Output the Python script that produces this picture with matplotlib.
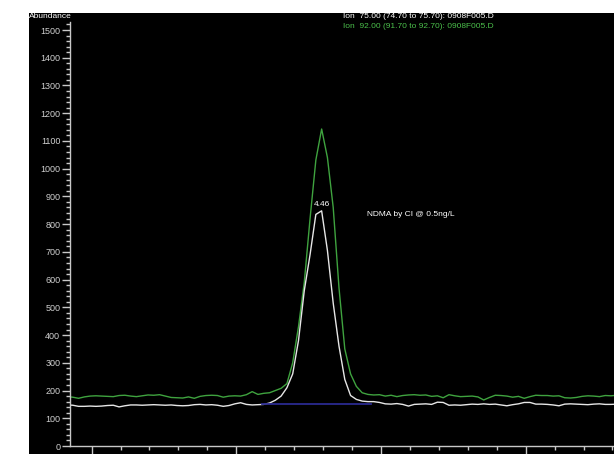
import numpy as np
import matplotlib.pyplot as plt
from matplotlib.patches import Rectangle
from matplotlib.ticker import MultipleLocator

# retention time of each scan (min)
times = [4.283, 4.287, 4.291, 4.295, 4.299, 4.303, 4.307, 4.311, 4.315, 4.319,
         4.323, 4.327, 4.331, 4.335, 4.339, 4.343, 4.347, 4.351, 4.355, 4.359,
         4.363, 4.367, 4.371, 4.375, 4.379, 4.383, 4.387, 4.391, 4.395, 4.399,
         4.403, 4.407, 4.411, 4.415, 4.419, 4.423, 4.427, 4.431, 4.435, 4.439,
         4.443, 4.447, 4.451, 4.455, 4.459, 4.463, 4.467, 4.471, 4.475, 4.479,
         4.483, 4.487, 4.491, 4.495, 4.499, 4.503, 4.507, 4.511, 4.515, 4.519,
         4.523, 4.527, 4.531, 4.535, 4.539, 4.543, 4.547, 4.551, 4.555, 4.559,
         4.563, 4.567, 4.571, 4.575, 4.579, 4.583, 4.587, 4.591, 4.595, 4.599,
         4.603, 4.607, 4.611, 4.615, 4.619, 4.623, 4.627, 4.631, 4.635, 4.639,
         4.643, 4.647, 4.651, 4.655, 4.659, 4.663]

# ion 92 trace (green)
ion92 = [178, 176, 172, 177, 180, 181, 180, 179, 178, 182,
         183, 180, 178, 181, 184, 183, 185, 180, 175, 174,
         173, 177, 172, 179, 182, 183, 182, 176, 180, 181,
         180, 185, 196, 186,
         190, 192, 200, 208, 225, 300, 430, 590, 820, 1031,
         1143, 1040, 860, 570, 350, 260, 215, 192, 186, 184,
         185, 180, 183, 178, 182,
         184, 185, 183, 184, 179, 181, 174, 185, 181, 178, 179,
         180, 177, 166, 175, 183, 182, 180, 176, 179, 172,
         178, 183, 182, 182, 180, 181, 174, 173, 175, 179,
         181, 180, 178, 182, 181, 183]

# ion 75 trace (white)
ion75 = [148, 147, 143, 143, 144, 143, 144, 146, 147, 141,
         145, 148, 148, 147, 148, 149, 148, 147, 148, 146,
         145, 146, 149, 150, 148, 149, 147, 143, 146, 152,
         156, 150, 148, 149,
         150, 155, 165, 180, 210, 260, 380, 560, 690, 835,
         848, 705, 515, 360, 240, 182, 168, 162, 160, 160,
         157, 152, 151, 153, 150,
         144, 150, 151, 152, 150, 158, 157, 147, 148, 147, 149,
         151, 150, 152, 150, 151, 148, 145, 149, 152, 157,
         157, 151, 151, 150, 148, 145, 151, 152, 151, 150,
         149, 151, 152, 150, 150, 151]

# integration baseline
base_t = [4.418, 4.493]
base_y = [150, 150]

W, H = 614, 454
fig = plt.figure(figsize=(W / 100, H / 100), dpi=100, facecolor='white')
fig.patches.append(Rectangle((29 / W, 0), 1, (H - 13) / H, transform=fig.transFigure,
                             facecolor='black', edgecolor='none', zorder=-10))

ax = fig.add_axes([70 / W, 8 / H, 0.9778, 0.9346])
ax.set_zorder(5)
ax.set_facecolor('none')
ax.set_xlim(4.2851, 4.70)
ax.set_ylim(0, 1530)

ax.plot(times, ion92, color='#3fa33f', lw=1.0)
ax.plot(times, ion75, color='#e6e6e6', lw=1.0)
ax.plot(base_t, base_y, color='#2a2a90', lw=1.3)

axcol = '#c8c8c8'
for s in ['top', 'right']:
    ax.spines[s].set_visible(False)
for s in ['left', 'bottom']:
    ax.spines[s].set_color(axcol)
    ax.spines[s].set_linewidth(1.0)

ax.yaxis.set_major_locator(MultipleLocator(100))
ax.yaxis.set_minor_locator(MultipleLocator(20))
ax.xaxis.set_major_locator(MultipleLocator(0.1))
ax.xaxis.set_minor_locator(MultipleLocator(0.02))
ax.xaxis.set_major_formatter(plt.FuncFormatter(lambda v, p: f'{v:.2f}'))
ax.tick_params(which='major', length=6, width=1, color=axcol, labelcolor='#d0d0d0',
               labelsize=6.5, pad=1)
ax.tick_params(which='minor', length=3, width=1, color=axcol)
for lab in ax.get_xticklabels() + ax.get_yticklabels():
    lab.set_family('Liberation Sans')

fnt = dict(family='Liberation Sans', fontsize=6.0)
fig.text(29 / W, 1 - 16 / H, 'Abundance', color='white', va='center', ha='left', **fnt)
fig.text(343 / W, 1 - 16 / H, 'Ion  75.00 (74.70 to 75.70): 0908F005.D',
         color='white', va='center', ha='left', **fnt)
fig.text(343 / W, 1 - 26 / H, 'Ion  92.00 (91.70 to 92.70): 0908F005.D',
         color='#4cc04c', va='center', ha='left', **fnt)
fig.text(367 / W, 1 - 215 / H, 'NDMA by CI @ 0.5ng/L', color='white',
         va='center', ha='left', **fnt)
ax.text(4.459, 870, '4.46', color='white', ha='center', va='center', **fnt)

fig.savefig('out.png', dpi=100, facecolor='white')
